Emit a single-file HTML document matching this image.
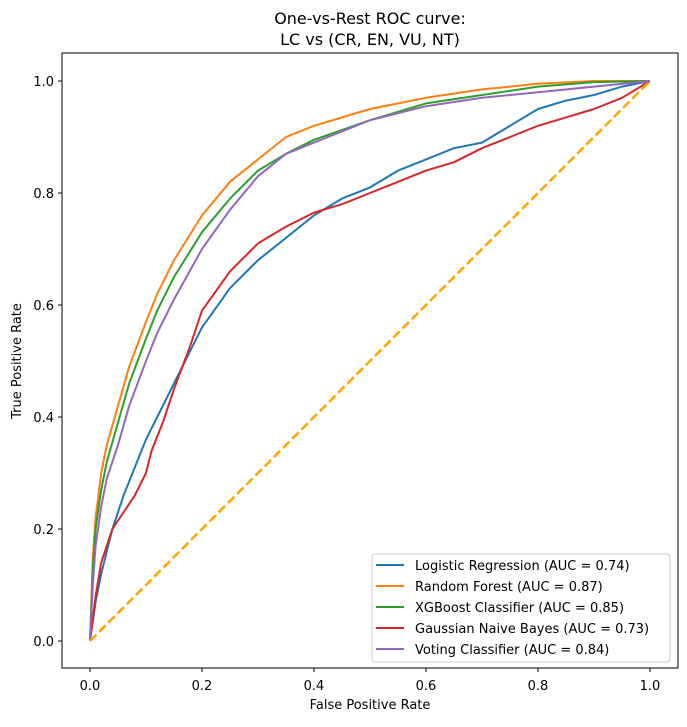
<!DOCTYPE html>
<html><head><meta charset="utf-8"><style>
body{margin:0;background:#fff;}
svg text{font-family:"DejaVu Sans","Liberation Sans",sans-serif;fill:#000;}
</style></head><body>
<svg id="chart" width="687" height="722" xmlns="http://www.w3.org/2000/svg">
<rect width="687" height="722" fill="#fff"/>
<text x="370" y="24" font-size="16" text-anchor="middle">One-vs-Rest ROC curve:</text>
<text x="370" y="45" font-size="16" text-anchor="middle">LC vs (CR, EN, VU, NT)</text>
<g id="plot"></g>
<text x="370" y="709" font-size="13" text-anchor="middle">False Positive Rate</text>
<text x="21" y="361" font-size="13" text-anchor="middle" transform="rotate(-90 21 361)">True Positive Rate</text>
</svg>
<script>
const ticks=[0,0.2,0.4,0.6,0.8,1.0];
const tickLabels=["0.0","0.2","0.4","0.6","0.8","1.0"];
const seriesNames=["Logistic Regression (AUC = 0.74)","Random Forest (AUC = 0.87)","XGBoost Classifier (AUC = 0.85)","Gaussian Naive Bayes (AUC = 0.73)","Voting Classifier (AUC = 0.84)"];
const seriesColors=["#1f77b4","#ff7f0e","#2ca02c","#d62728","#9467bd"];
const lrFpr=[0,0.01,0.02,0.04,0.06,0.08,0.1,0.12,0.15,0.2,0.25,0.3,0.35,0.4,0.45,0.5,0.55,0.6,0.65,0.7,0.75,0.8,0.85,0.9,0.95,1];
const lrTpr=[0,0.07,0.12,0.2,0.26,0.31,0.36,0.4,0.46,0.56,0.63,0.68,0.72,0.76,0.79,0.81,0.84,0.86,0.88,0.89,0.92,0.95,0.965,0.975,0.99,1];
const rfFpr=[0,0.005,0.01,0.02,0.03,0.05,0.07,0.1,0.12,0.15,0.2,0.25,0.3,0.35,0.4,0.5,0.6,0.7,0.8,0.9,1];
const rfTpr=[0,0.15,0.22,0.3,0.35,0.42,0.49,0.57,0.62,0.68,0.76,0.82,0.86,0.9,0.92,0.95,0.97,0.985,0.995,1,1];
const xgFpr=[0,0.005,0.01,0.02,0.03,0.05,0.07,0.1,0.12,0.15,0.2,0.25,0.3,0.35,0.4,0.5,0.6,0.7,0.8,0.9,1];
const xgTpr=[0,0.13,0.2,0.27,0.32,0.39,0.46,0.54,0.59,0.65,0.73,0.79,0.84,0.87,0.895,0.93,0.96,0.975,0.99,0.998,1];
const gnbFpr=[0,0.01,0.02,0.04,0.06,0.08,0.1,0.11,0.13,0.15,0.18,0.2,0.25,0.3,0.35,0.4,0.45,0.5,0.55,0.6,0.65,0.7,0.75,0.8,0.85,0.9,0.95,1];
const gnbTpr=[0,0.08,0.14,0.2,0.23,0.26,0.3,0.34,0.39,0.45,0.53,0.59,0.66,0.71,0.74,0.765,0.78,0.8,0.82,0.84,0.855,0.88,0.9,0.92,0.935,0.95,0.97,1];
const vcFpr=[0,0.005,0.01,0.02,0.03,0.05,0.07,0.1,0.12,0.15,0.2,0.25,0.3,0.35,0.4,0.5,0.6,0.7,0.8,0.9,1];
const vcTpr=[0,0.1,0.17,0.24,0.29,0.35,0.42,0.5,0.55,0.61,0.7,0.77,0.83,0.87,0.89,0.93,0.955,0.97,0.98,0.99,1];
const diagX=[0,1];const diagY=[0,1];

const NS="http://www.w3.org/2000/svg";
const g=document.getElementById('plot');
const X0=90,X1=650,Y0=641,Y1=81;
function sx(v){return X0+(X1-X0)*v;}
function sy(v){return Y0-(Y0-Y1)*v;}
function mk(t,a){const e=document.createElementNS(NS,t);for(const k in a)e.setAttribute(k,a[k]);g.appendChild(e);return e;}
function path(xs,ys){return xs.map((x,i)=>(i?'L':'M')+sx(x).toFixed(1)+' '+sy(ys[i]).toFixed(1)).join(' ');}
ticks.forEach((t,i)=>{
 let l=mk('line',{x1:sx(t),x2:sx(t),y1:668,y2:672,stroke:'#000','stroke-width':1});
 
 
 let tx=mk('text',{x:sx(t),y:690,'font-size':13,'text-anchor':'middle'});tx.textContent=tickLabels[i];
 
 
 let l2=mk('line',{x1:58,x2:62,y1:sy(t),y2:sy(t),stroke:'#000','stroke-width':1});
 
 
 let ty=mk('text',{x:54,y:sy(t)+5,'font-size':13,'text-anchor':'end'});ty.textContent=tickLabels[i];
 
 
});
const fprs=[lrFpr,rfFpr,xgFpr,gnbFpr,vcFpr],tprs=[lrTpr,rfTpr,xgTpr,gnbTpr,vcTpr];
const keys=['logistic-regression','random-forest','xgboost','gaussian-naive-bayes','voting-classifier'];
fprs.forEach((f,i)=>{
 let p=mk('path',{d:path(f,tprs[i]),fill:'none',stroke:seriesColors[i],'stroke-width':2,'stroke-linejoin':'round'});
 
 
});
let dg=mk('path',{d:path(diagX,diagY),fill:'none',stroke:'orange','stroke-width':2.5,'stroke-dasharray':'9,4'});


let fr=mk('rect',{x:62,y:53,width:616,height:615,fill:'none',stroke:'#000','stroke-width':1});


let lg=mk('rect',{x:372,y:554,width:298,height:108,rx:3,fill:'#fff','fill-opacity':0.8,stroke:'#ccc','stroke-width':1});


seriesNames.forEach((n,i)=>{
 const y=565+21*i;
 let l=mk('line',{x1:376,x2:404,y1:y,y2:y,stroke:seriesColors[i],'stroke-width':2});
 
 
 let t=mk('text',{x:415,y:y+5,'font-size':13});t.textContent=n;
 
 
});
</script>
</body></html>
